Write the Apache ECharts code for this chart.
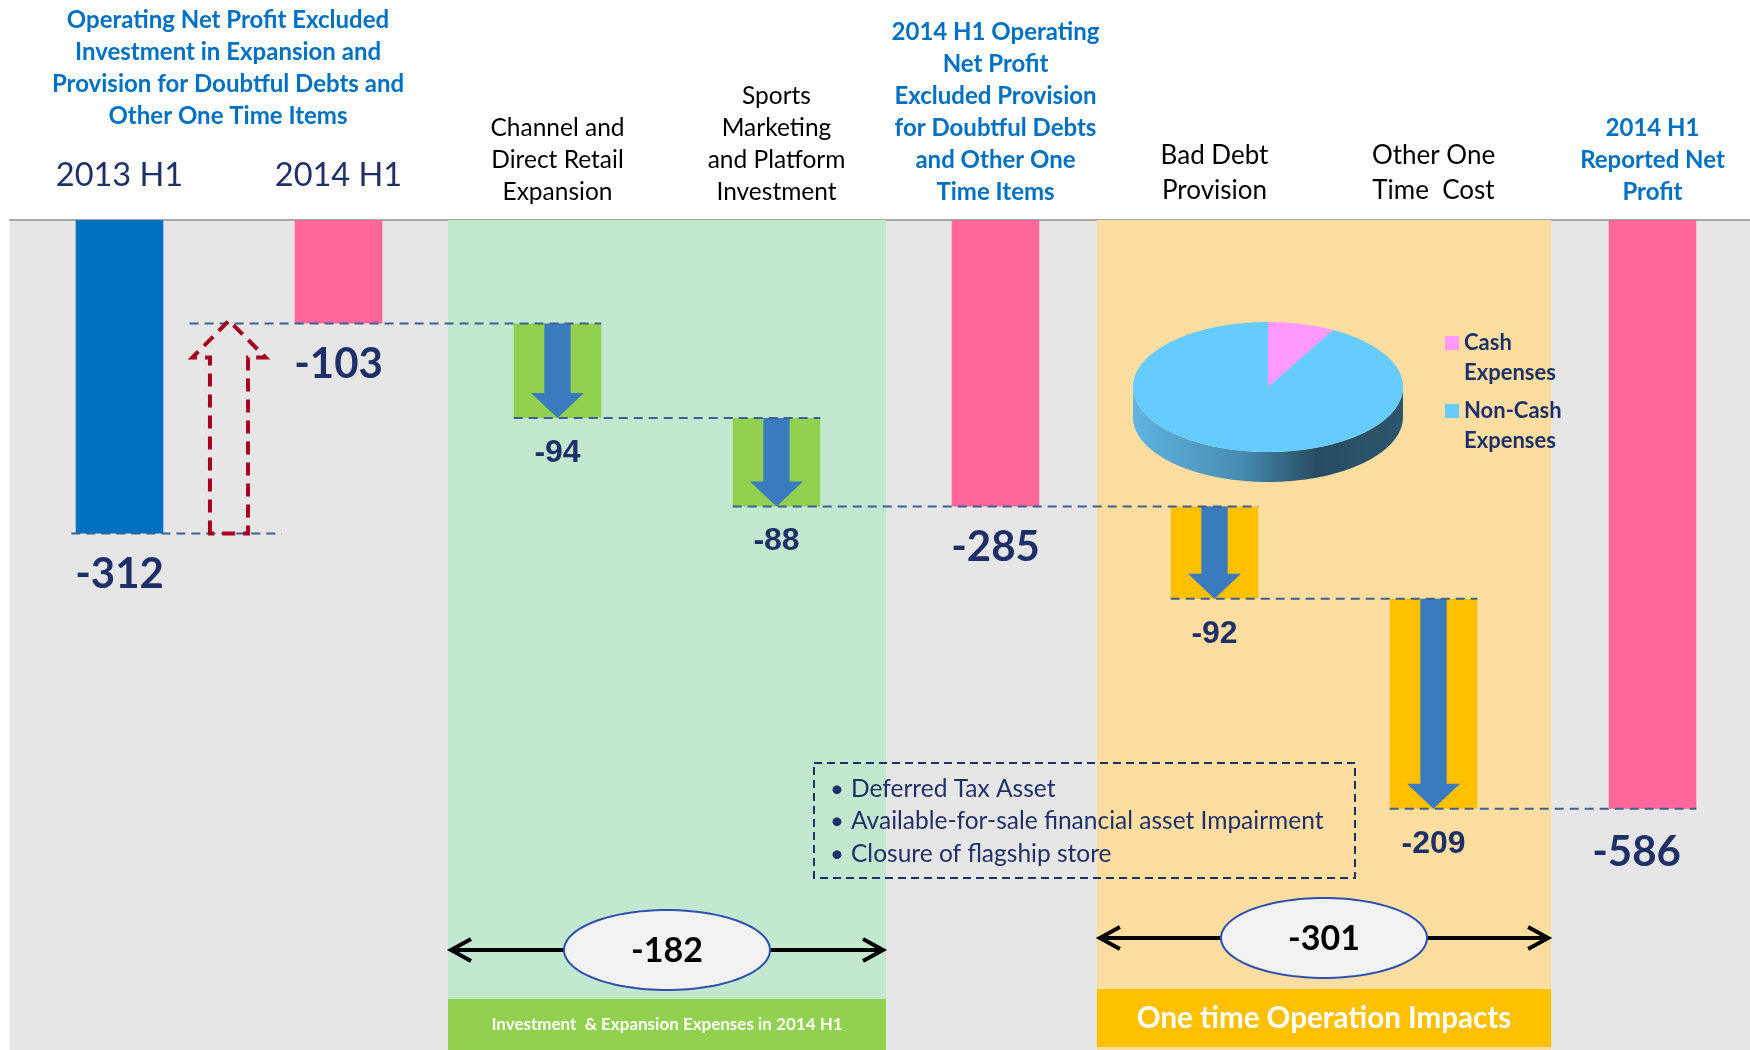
<!DOCTYPE html>
<html>
<head>
<meta charset="utf-8">
<script src="https://cdn.jsdelivr.net/npm/echarts@6/dist/echarts.min.js"></script>
<style>
  html, body { margin: 0; padding: 0; background: #ffffff; }
  #chart { width: 1750px; height: 1050px; }
</style>
</head>
<body>
<div id="chart"></div>
<script>
// ---- data ----
const categories = [
  '2013 H1',
  '2014 H1',
  'Channel and\nDirect Retail\nExpansion',
  'Sports\nMarketing\nand Platform\nInvestment',
  '2014 H1 Operating\nNet Profit\nExcluded Provision\nfor Doubtful Debts\nand Other One\nTime Items',
  'Bad Debt\nProvision',
  'Other One\nTime  Cost',
  '2014 H1\nReported Net\nProfit'
];
const totalValues = [-312, -103, null, null, -285, null, null, -586];
const stepValues = [null, null, -94, -88, null, -92, -209, null];
const headline = 'Operating Net Profit Excluded\nInvestment in Expansion and\nProvision for Doubtful Debts and\nOther One Time Items';
const pieNames = ['Cash\nExpenses', 'Non-Cash\nExpenses'];
const pieValues = [8, 92];
const noteItems = [
  'Deferred Tax Asset',
  'Available-for-sale financial asset Impairment',
  'Closure of flagship store'
];
const bandTitles = ['Investment  & Expansion Expenses in 2014 H1', 'One time Operation Impacts'];
const bandMembers = [[2, 3], [5, 6]];

// ---- derived series ----
const NAVY = '#1f3068';
const totalColors = ['#0070c0', '#ff6699', null, null, '#ff6699', null, null, '#ff6699'];
const labelStyle = ['yr', 'yr', 'blk', 'blk', 'blu', 'blk2', 'blk2', 'blu'];

// floating steps: [category, from, to, delta]
const stepData = [];
let level = 0;
categories.forEach((c, i) => {
  if (totalValues[i] != null) level = totalValues[i];
  else if (stepValues[i] != null) {
    stepData.push([i, level, level + stepValues[i], stepValues[i]]);
    level += stepValues[i];
  }
});

// dashed level connectors: [xFrom, xTo, level]
const HALF = 0.2;
const connectors = [
  [-HALF - 0.02, 0.74, totalValues[0]],
  [0.32, stepData[0][0] + HALF, totalValues[1]]
];
stepData.forEach((s, k) => {
  const next = k + 1 < stepData.length ? stepData[k + 1][0] : categories.length - 1;
  connectors.push([s[0] - HALF, next + HALF, s[2]]);
});

// band totals
const bandSpan = [[1.5, 3.5], [4.463, 6.537]];
const bandSums = bandMembers.map(m => m.reduce((s, i) => s + stepValues[i], 0));
const summaryData = bandSums.map((v, k) => [bandSpan[k][0], bandSpan[k][1], v]);
const summaryLevel = [-726.5, -714.5];

const barData = totalValues.map((v, i) => v == null ? null : {
  value: v,
  itemStyle: { color: totalColors[i] },
  label: i === categories.length - 1 ? { offset: [-16, 3] } : {}
});

// ---- renderers ----
function renderStep(params, api) {
  const xi = api.value(0);
  const p0 = api.coord([xi, api.value(1)]);
  const p1 = api.coord([xi, api.value(2)]);
  const band = api.size([1, 0])[0];
  const w = band * 0.4;
  const cx = p0[0], yt = p0[1], yb = p1[1];
  const sh = band * 0.06, hh = band * 0.121, hl = 25;
  const fill = xi < 4 ? '#92d050' : '#ffc000';
  return {
    type: 'group',
    children: [
      { type: 'rect', shape: { x: cx - w / 2, y: yt, width: w, height: yb - yt }, style: { fill } },
      { type: 'polygon', shape: { points: [
        [cx - sh, yt], [cx + sh, yt], [cx + sh, yb - hl], [cx + hh, yb - hl],
        [cx, yb], [cx - hh, yb - hl], [cx - sh, yb - hl]
      ] }, style: { fill: '#3a7bbf' } },
      { type: 'text', style: {
        text: String(api.value(3)), x: cx, y: yb + 19,
        textAlign: 'center', textVerticalAlign: 'top',
        font: 'bold 32px "Liberation Sans", Arial, sans-serif', fill: NAVY
      } }
    ]
  };
}

function renderConnector(params, api) {
  const a = api.coord([api.value(0), api.value(2)]);
  const b = api.coord([api.value(1), api.value(2)]);
  return {
    type: 'line',
    shape: { x1: a[0], y1: a[1], x2: b[0], y2: b[1] },
    style: { stroke: '#3d5f92', lineWidth: 2, lineDash: [9, 6] }
  };
}

function renderRecovery(params, api) {
  const x = api.value(0);
  const pb = api.coord([x, api.value(1)]);
  const pt = api.coord([x, api.value(2)]);
  const band = api.size([1, 0])[0];
  const sh = band * 0.087, hh = band * 0.167, hl = 37;
  const cx = pb[0], yb = pb[1], yt = pt[1] - 3;
  return {
    type: 'polygon',
    shape: { points: [
      [cx - sh, yb], [cx - sh, yt + hl], [cx - hh, yt + hl], [cx, yt],
      [cx + hh, yt + hl], [cx + sh, yt + hl], [cx + sh, yb]
    ] },
    style: { fill: 'none', stroke: '#a50021', lineWidth: 4, lineDash: [13, 8] }
  };
}

function renderSummary(params, api) {
  const lv = summaryLevel[params.dataIndex];
  const l = api.coord([api.value(0), lv]);
  const r = api.coord([api.value(1), lv]);
  const cy = l[1], cx = (l[0] + r[0]) / 2, rx = 103, ry = 40;
  const x0 = l[0] + 3, x1 = r[0] - 3;
  const ell = [];
  for (let k = 0; k < 120; k++) {
    const t = k / 120 * Math.PI * 2;
    ell.push([cx + rx * Math.cos(t), cy + ry * Math.sin(t)]);
  }
  const black = { stroke: '#000', lineWidth: 4, fill: 'none' };
  return {
    type: 'group',
    children: [
      { type: 'line', shape: { x1: x0, y1: cy, x2: cx - rx, y2: cy }, style: black },
      { type: 'polyline', shape: { points: [[x0 + 20, cy - 11], [x0, cy], [x0 + 20, cy + 11]] }, style: black },
      { type: 'line', shape: { x1: cx + rx, y1: cy, x2: x1, y2: cy }, style: black },
      { type: 'polyline', shape: { points: [[x1 - 20, cy - 11], [x1, cy], [x1 - 20, cy + 11]] }, style: black },
      { type: 'polygon', shape: { points: ell }, style: { fill: '#f2f2f2', stroke: '#2e4fb0', lineWidth: 2 } },
      { type: 'text', style: {
        text: String(api.value(2)), x: cx, y: cy + 1,
        textAlign: 'center', textVerticalAlign: 'middle',
        font: 'bold 34px Lato, sans-serif', fill: '#000'
      } }
    ]
  };
}

// tilted pie
const PIE = { cx: 1268, cy: 387, rx: 135, ry: 65, depth: 30 };
const pieColors = ['#ff99ff', '#66ccff'];
const pieTotal = pieValues.reduce((a, b) => a + b, 0);
function ellPt(t, dy) {
  const r = t * Math.PI / 180;
  return [PIE.cx + PIE.rx * Math.cos(r), PIE.cy - PIE.ry * Math.sin(r) + dy];
}
function arcPts(tFrom, tTo, dy) {
  const pts = [];
  const n = Math.max(2, Math.ceil(Math.abs(tFrom - tTo)));
  for (let k = 0; k <= n; k++) pts.push(ellPt(tFrom + (tTo - tFrom) * k / n, dy));
  return pts;
}
function renderPie(params, api) {
  const i = params.dataIndex;
  let before = 0;
  for (let k = 0; k < i; k++) before += pieValues[k];
  const v = api.value(0);
  const t0 = 90 - 360 * before / pieTotal;
  const t1 = 90 - 360 * (before + v) / pieTotal;
  const children = [];
  const s0 = Math.min(t0, 0), s1 = Math.max(t1, -180);
  if (s0 > s1) {
    children.push({
      type: 'polygon',
      shape: { points: arcPts(s0, s1, 0).concat(arcPts(s1, s0, PIE.depth)) },
      style: { fill: new echarts.graphic.LinearGradient(0, 0, 1, 0, [
        { offset: 0, color: '#5fb4e2' },
        { offset: 0.4, color: '#478cb2' },
        { offset: 0.68, color: '#274c62' },
        { offset: 1, color: '#2c566e' }
      ]) }
    });
  }
  children.push({
    type: 'polygon',
    shape: { points: [[PIE.cx, PIE.cy]].concat(arcPts(t0, t1, 0)) },
    style: { fill: pieColors[i] }
  });
  return { type: 'group', children };
}

// ---- chart ----
const chart = echarts.init(document.getElementById('chart'));

const graphics = [
  { type: 'text', x: 228, y: 4, z: 10, style: {
    text: headline, textAlign: 'center', textVerticalAlign: 'top',
    font: 'bold 24px Lato, sans-serif', lineHeight: 32, fill: '#0070c0'
  } },
  { type: 'rect', z: 10, shape: { x: 814, y: 763, width: 541, height: 115 },
    style: { fill: 'none', stroke: NAVY, lineWidth: 2, lineDash: [8, 5] } }
];
noteItems.forEach((t, k) => {
  const y = 789 + k * 32.5;
  graphics.push({ type: 'text', x: 837, y, z: 10, style: {
    text: '•', textAlign: 'center', textVerticalAlign: 'middle', font: '24px Lato, sans-serif', fill: NAVY } });
  graphics.push({ type: 'text', x: 851, y, z: 10, style: {
    text: t, textAlign: 'left', textVerticalAlign: 'middle', font: '24.5px Lato, sans-serif', fill: NAVY } });
});
pieNames.forEach((n, k) => {
  const y = 336 + k * 68;
  graphics.push({ type: 'rect', z: 10, shape: { x: 1445, y, width: 14, height: 14 }, style: { fill: pieColors[k] } });
  graphics.push({ type: 'text', x: 1464, y: y - 8, z: 10, style: {
    text: n, textAlign: 'left', textVerticalAlign: 'top', lineHeight: 30,
    font: 'bold 22px Lato, sans-serif', fill: NAVY } });
});

chart.setOption({
  animation: false,
  backgroundColor: '#ffffff',
  grid: {
    left: 10, top: 220, width: 1752, height: 830,
    show: true, backgroundColor: '#e6e6e6', borderWidth: 0,
    containLabel: false, outerBoundsMode: 'none'
  },
  xAxis: [
    { type: 'value', min: -0.5, max: 7.5, show: false, splitLine: { show: false } },
    {
      type: 'category', position: 'top', data: categories,
      axisLine: { show: true, lineStyle: { color: '#a6a6ad', width: 2 } },
      axisTick: { show: false },
      splitLine: { show: false },
      axisLabel: {
        interval: 0, margin: 12,
        formatter: (val, idx) => {
          const lines = val.split('\n').map(s => '{' + labelStyle[idx] + '|' + s + '}');
          if (labelStyle[idx] === 'yr') lines.push('{gap| }');
          return lines.join('\n');
        },
        rich: {
          yr: { fontSize: 32.5, color: NAVY, fontFamily: 'Lato', lineHeight: 36 },
          gap: { fontSize: 10, lineHeight: 14 },
          blk: { fontSize: 24.5, color: '#000', fontFamily: 'Lato', lineHeight: 32 },
          blk2: { fontSize: 26, color: '#000', fontFamily: 'Lato', lineHeight: 35 },
          blu: { fontSize: 24, fontWeight: 'bold', color: '#0070c0', fontFamily: 'Lato', lineHeight: 32 }
        }
      }
    }
  ],
  yAxis: { type: 'value', min: -826, max: 0, show: false, splitLine: { show: false } },
  graphic: graphics,
  series: [
    {
      type: 'line', xAxisIndex: 0, data: [], z: 1, silent: true,
      markArea: { silent: true, data: [
        [{ xAxis: bandSpan[0][0], itemStyle: { color: '#c2e9cf', opacity: 1 } }, { xAxis: bandSpan[0][1] }],
        [{ xAxis: bandSpan[1][0], itemStyle: { color: '#fddea0', opacity: 1 } }, { xAxis: bandSpan[1][1] }]
      ] }
    },
    {
      type: 'line', xAxisIndex: 0, data: [], z: 1.5, silent: true,
      markArea: { silent: true, data: [
        [{ name: bandTitles[0], xAxis: bandSpan[0][0], yAxis: -775.3,
           itemStyle: { color: '#92d050', opacity: 1 },
           label: { show: true, position: 'inside', color: '#fff', fontWeight: 'bold', fontSize: 17, fontFamily: 'Lato' } },
         { xAxis: bandSpan[0][1], yAxis: -826 }],
        [{ name: bandTitles[1], xAxis: bandSpan[1][0], yAxis: -765.3,
           itemStyle: { color: '#ffc000', opacity: 1 },
           label: { show: true, position: 'inside', color: '#fff', fontWeight: 'bold', fontSize: 29.5, fontFamily: 'Lato' } },
         { xAxis: bandSpan[1][1], yAxis: -823 }]
      ] }
    },
    {
      type: 'bar', xAxisIndex: 1, yAxisIndex: 0, data: barData, barWidth: '40%', z: 2,
      label: {
        show: true, position: 'bottom', distance: 20, formatter: '{c}',
        fontFamily: 'Lato', fontWeight: 'bold', fontSize: 42, color: NAVY
      }
    },
    { type: 'custom', xAxisIndex: 0, data: stepData, renderItem: renderStep, z: 3 },
    { type: 'custom', xAxisIndex: 0, data: summaryData, renderItem: renderSummary, z: 4 },
    { type: 'custom', xAxisIndex: 0, data: connectors, renderItem: renderConnector, z: 5 },
    { type: 'custom', xAxisIndex: 0, data: [[0.5, totalValues[0], totalValues[1]]], renderItem: renderRecovery, z: 5 },
    {
      type: 'custom', coordinateSystem: 'none', z: 6,
      data: pieValues.map((v, i) => ({ name: pieNames[i], value: v })),
      renderItem: renderPie
    }
  ]
});
</script>
</body>
</html>
